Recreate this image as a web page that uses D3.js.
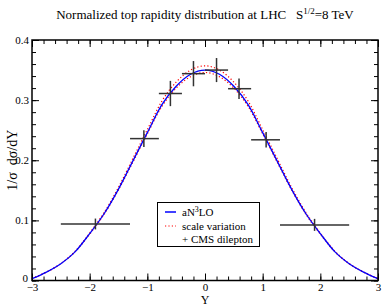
<!DOCTYPE html>
<html>
<head>
<meta charset="utf-8">
<script src="https://cdn.jsdelivr.net/npm/d3@7"></script>
<style>
  body { margin: 0; background: #fff; }
  svg text { font-family: "Liberation Serif", "Times New Roman", "DejaVu Serif", serif; }
</style>
</head>
<body>
<svg id="chart" width="382" height="307"></svg>
<script>
// theory curve grid (rapidity Y)
const gridY = [-3, -2.75, -2.5, -2.25, -2, -1.75, -1.5, -1.25, -1, -0.75, -0.5, -0.25, 0,
               0.25, 0.5, 0.75, 1, 1.25, 1.5, 1.75, 2, 2.25, 2.5, 2.75, 3];
const an3lo = [0.003, 0.014, 0.028, 0.048, 0.078, 0.111, 0.152, 0.199, 0.246, 0.292, 0.323, 0.343, 0.350,
               0.343, 0.323, 0.292, 0.246, 0.199, 0.152, 0.111, 0.078, 0.048, 0.028, 0.014, 0.003];
const scaleUp = [0.003, 0.014, 0.028, 0.049, 0.079, 0.113, 0.155, 0.203, 0.251, 0.298, 0.330, 0.350, 0.357,
                 0.350, 0.330, 0.298, 0.251, 0.203, 0.155, 0.113, 0.079, 0.049, 0.028, 0.014, 0.003];
const scaleDown = [0.003, 0.014, 0.028, 0.048, 0.077, 0.110, 0.151, 0.197, 0.244, 0.289, 0.320, 0.339, 0.346,
                   0.339, 0.320, 0.289, 0.244, 0.197, 0.151, 0.110, 0.077, 0.048, 0.028, 0.014, 0.003];

// CMS dilepton data
const cmsY    = [-1.9, -1.06, -0.6, -0.2, 0.2, 0.59, 1.06, 1.9];
const cmsLo   = [-2.5, -1.3, -0.8, -0.4, 0, 0.4, 0.8, 1.3];
const cmsHi   = [-1.3, -0.8, -0.4, 0, 0.4, 0.8, 1.3, 2.5];
const cmsVal  = [0.094, 0.236, 0.311, 0.344, 0.350, 0.319, 0.234, 0.0925];
const cmsErr  = [0.009, 0.014, 0.021, 0.021, 0.020, 0.017, 0.013, 0.010];

const xTicks = [-3, -2, -1, 0, 1, 2, 3];
const yTicks = [0, 0.1, 0.2, 0.3, 0.4];

const FONT = '"Liberation Serif", "Times New Roman", serif';
const svg = d3.select('#chart');
const mLeft = 32, mRight = 378, mTop = 40, mBottom = 280.5;

const x = d3.scaleLinear().domain([-3, 3]).range([mLeft, mRight]);
const y = d3.scaleLinear().domain([0, 0.4]).range([mBottom, mTop]);

// Title
const title = svg.append('text')
  .attr('x', 205)
  .attr('y', 19)
  .attr('text-anchor', 'middle')
  .attr('font-family', FONT)
  .style('font-size', '13px');
title.append('tspan').text('Normalized top rapidity distribution at LHC\u00a0\u00a0\u00a0S');
title.append('tspan').attr('dy', -5).style('font-size', '9px').text('1/2');
title.append('tspan').attr('dy', 5).text('=8 TeV');

// Axes with inward ticks
const minorX = d3.range(-3, 3.001, 0.2);
const minorY = d3.range(0, 0.4001, 0.02);

function tickAxis(axis, pos) {
  return svg.append('g').attr('transform', pos).call(axis)
    .attr('font-family', FONT)
    .call(g => g.select('.domain').remove())
    .call(g => g.selectAll('line').attr('stroke', '#000').attr('stroke-width', 1));
}

tickAxis(d3.axisBottom(x).tickValues(minorX).tickSize(-4).tickFormat(''), `translate(0,${mBottom})`);
tickAxis(d3.axisTop(x).tickValues(minorX).tickSize(-4).tickFormat(''), `translate(0,${mTop})`);
tickAxis(d3.axisLeft(y).tickValues(minorY).tickSize(-4).tickFormat(''), `translate(${mLeft},0)`);
tickAxis(d3.axisRight(y).tickValues(minorY).tickSize(-4).tickFormat(''), `translate(${mRight},0)`);

tickAxis(d3.axisBottom(x).tickValues(xTicks).tickSize(-7).tickPadding(3)
  .tickFormat(d3.format('d')), `translate(0,${mBottom})`);
tickAxis(d3.axisTop(x).tickValues(xTicks).tickSize(-7).tickFormat(''), `translate(0,${mTop})`);
const yAx = tickAxis(d3.axisLeft(y).tickValues(yTicks).tickSize(-7).tickPadding(3)
  .tickFormat(d => d === 0 ? '0' : d3.format('.1f')(d)), `translate(${mLeft},0)`);
tickAxis(d3.axisRight(y).tickValues(yTicks).tickSize(-7).tickFormat(''), `translate(${mRight},0)`);

svg.selectAll('.tick text')
  .attr('font-family', FONT)
  .style('font-size', '11px')
  .attr('fill', '#000');
yAx.selectAll('.tick text').filter(d => d === 0).attr('dy', '0.1em').attr('dx', -1);

// Axis labels
svg.append('text')
  .attr('x', x(0))
  .attr('y', 304.3)
  .attr('text-anchor', 'middle')
  .attr('font-family', FONT)
  .style('font-size', '12px')
  .text('Y');

svg.append('text')
  .attr('transform', `translate(17,${y(0.2)}) rotate(-90)`)
  .attr('text-anchor', 'middle')
  .attr('font-family', FONT)
  .style('font-size', '14px')
  .text('1/\u03c3\u00a0\u00a0d\u03c3/dY');

// Curves
const line = d3.line()
  .x((d, i) => x(gridY[i]))
  .y(d => y(d))
  .curve(d3.curveMonotoneX);

svg.append('path').datum(scaleUp)
  .attr('fill', 'none').attr('stroke', '#ff0000').attr('stroke-width', 1.2)
  .attr('stroke-dasharray', '1.2,2.2').attr('d', line);
svg.append('path').datum(scaleDown)
  .attr('fill', 'none').attr('stroke', '#ff0000').attr('stroke-width', 1.2)
  .attr('stroke-dasharray', '1.2,2.2').attr('d', line);
svg.append('path').datum(an3lo)
  .attr('fill', 'none').attr('stroke', '#0000ff').attr('stroke-width', 1.3)
  .attr('d', line);

// Data crosses
const pts = svg.append('g').attr('stroke', '#333').attr('stroke-width', 1.5);
pts.selectAll('.xerr')
  .data(cmsY)
  .enter()
  .append('line')
  .attr('x1', (_, i) => x(cmsLo[i]))
  .attr('x2', (_, i) => x(cmsHi[i]))
  .attr('y1', (_, i) => y(cmsVal[i]))
  .attr('y2', (_, i) => y(cmsVal[i]));
pts.selectAll('.yerr')
  .data(cmsY)
  .enter()
  .append('line')
  .attr('x1', d => x(d))
  .attr('x2', d => x(d))
  .attr('y1', (_, i) => y(cmsVal[i] - cmsErr[i]))
  .attr('y2', (_, i) => y(cmsVal[i] + cmsErr[i]));

// Frame
svg.append('rect')
  .attr('x', mLeft).attr('y', mTop)
  .attr('width', mRight - mLeft).attr('height', mBottom - mTop)
  .attr('fill', 'none').attr('stroke', '#000').attr('stroke-width', 1.5);

// Legend
const lg = svg.append('g').attr('font-family', FONT);
lg.append('rect')
  .attr('x', 157.5).attr('y', 202.5).attr('width', 102).attr('height', 44)
  .attr('fill', '#fff').attr('stroke', '#000').attr('stroke-width', 1);
lg.append('line').attr('x1', 165).attr('x2', 176).attr('y1', 212).attr('y2', 212)
  .attr('stroke', '#0000ff').attr('stroke-width', 1.5);
lg.append('line').attr('x1', 165).attr('x2', 176).attr('y1', 226).attr('y2', 226)
  .attr('stroke', '#ff0000').attr('stroke-width', 1.2).attr('stroke-dasharray', '1.2,2.2');
const t1 = lg.append('text').attr('x', 182).attr('y', 216).style('font-size', '11px');
t1.append('tspan').text('aN');
t1.append('tspan').attr('dy', -4).style('font-size', '8px').text('3');
t1.append('tspan').attr('dy', 4).text('LO');
lg.append('text').attr('x', 182).attr('y', 230).style('font-size', '11px').text('scale variation');
lg.append('text').attr('x', 182).attr('y', 243).style('font-size', '11px').text('+ CMS dilepton');
</script>
</body>
</html>
